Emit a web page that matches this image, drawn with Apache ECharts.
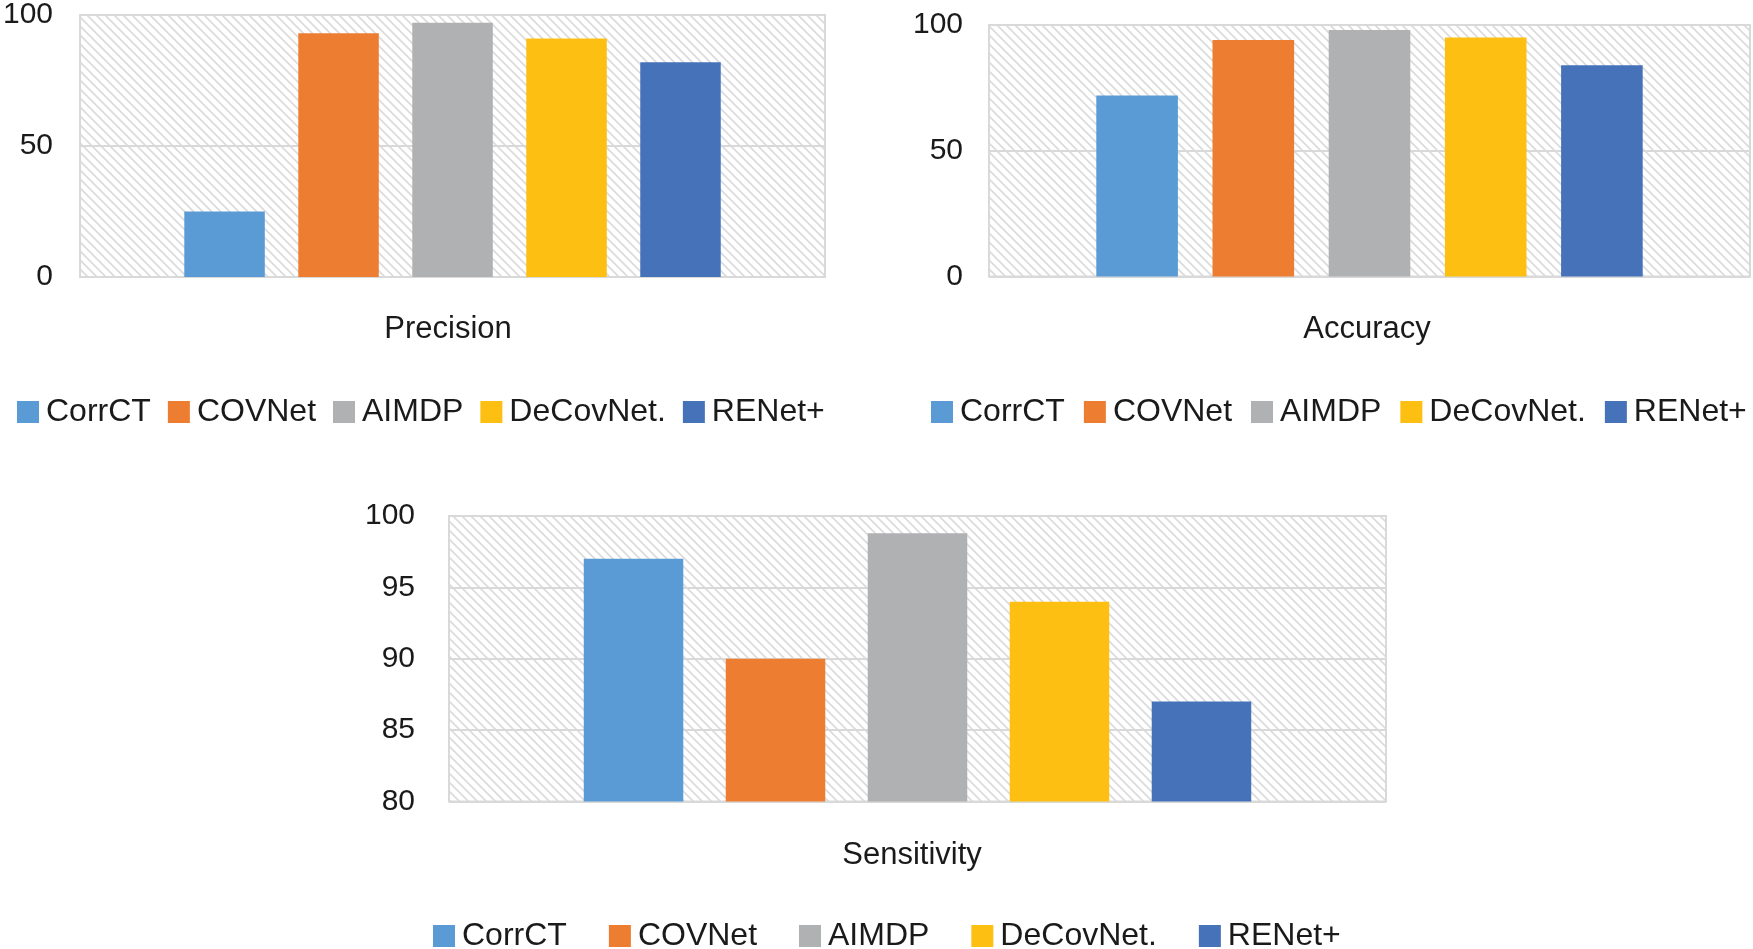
<!DOCTYPE html>
<html>
<head>
<meta charset="utf-8">
<script src="https://cdn.jsdelivr.net/npm/echarts@6/dist/echarts.min.js"></script>
<style>
html,body{margin:0;padding:0;background:#fff;}
#main{width:1753px;height:949px;}
</style>
</head>
<body>
<div id="main"></div>
<script>
// ---- data ----
var methods = ['CorrCT', 'COVNet', 'AIMDP', 'DeCovNet.', 'RENet+'];
var colors = ['#5B9BD5', '#ED7D31', '#B0B1B3', '#FCBF12', '#4672BA'];
var precisionValues = [25, 93, 97, 91, 82];
var accuracyValues = [72, 94, 98, 95, 84];
var sensitivityValues = [97, 90, 98.8, 94, 87];
var chartTitles = ['Precision', 'Accuracy', 'Sensitivity'];
var yTicksTop = [0, 50, 100];
var yTicksBottom = [80, 85, 90, 95, 100];

// hatch pattern
function makeHatch() {
  var s = 9;
  var c = document.createElement('canvas');
  c.width = s; c.height = s;
  var ctx = c.getContext('2d');
  ctx.fillStyle = '#ffffff';
  ctx.fillRect(0, 0, s, s);
  ctx.strokeStyle = '#dcdcdc';
  ctx.lineWidth = 1.8;
  ctx.beginPath();
  ctx.moveTo(-1, -1); ctx.lineTo(s + 1, s + 1);
  ctx.moveTo(-1, s - 1); ctx.lineTo(1, s + 1);
  ctx.moveTo(s - 1, -1); ctx.lineTo(s + 1, 1);
  ctx.stroke();
  return { image: c, repeat: 'repeat' };
}
var hatch = makeHatch();

var font = 'Liberation Sans, Arial, Helvetica, sans-serif';
var txtColor = '#1a1a1a';
var fs = 30;
var legendFs = 32;
var titleFs = 31;

var grids = [
  { left: 76, top: 14, width: 749, height: 263 },
  { left: 989, top: 25, width: 761, height: 251.5 },
  { left: 449, top: 516, width: 937, height: 285.5 }
];
var axisRanges = [
  { min: yTicksTop[0], max: yTicksTop[yTicksTop.length - 1], interval: 50, margin: 27 },
  { min: yTicksTop[0], max: yTicksTop[yTicksTop.length - 1], interval: 50, margin: 26 },
  { min: yTicksBottom[0], max: yTicksBottom[yTicksBottom.length - 1], interval: 5, margin: 34 }
];
var barWidths = [80.5, 81.6, 99.5];
var barGaps = ['41.6%', '42.4%', '42.7%'];
var dataSets = [precisionValues, accuracyValues, sensitivityValues];
var titlePos = [[443, 326], [1362, 326], [907, 852]];
var legendPos = [
  { left: 17, top: 396, gap: 17 },
  { left: 931, top: 396, gap: 19 },
  { left: 433, top: 920, gap: 42 }
];

var option = {
  backgroundColor: '#ffffff',
  animation: false,
  textStyle: { fontFamily: font },
  grid: grids.map(function (g) {
    return {
      left: g.left, top: g.top, width: g.width, height: g.height,
      show: true, backgroundColor: hatch, borderColor: '#d9d9d9', borderWidth: 2,
      containLabel: false
    };
  }),
  xAxis: grids.map(function (g, i) {
    return {
      type: 'category', gridIndex: i, data: [''],
      axisLine: { show: false }, axisTick: { show: false }, axisLabel: { show: false },
      splitLine: { show: false }
    };
  }),
  yAxis: axisRanges.map(function (r, i) {
    return {
      type: 'value', gridIndex: i, min: r.min, max: r.max, interval: r.interval,
      axisLine: { show: false }, axisTick: { show: false },
      axisLabel: { color: txtColor, fontSize: fs, fontFamily: font, margin: r.margin },
      splitLine: { show: true, lineStyle: { color: '#d9d9d9', width: 2 } }
    };
  }),
  title: chartTitles.map(function (t, i) {
    return {
      text: t, left: titlePos[i][0], top: titlePos[i][1] - 17, textAlign: 'center',
      textStyle: { color: txtColor, fontSize: titleFs, fontWeight: 'normal', fontFamily: font }
    };
  }),
  legend: legendPos.map(function (p) {
    return {
      data: methods, left: p.left, top: p.top, itemGap: p.gap, width: 1000, padding: 0,
      itemWidth: 22, itemHeight: 22, icon: 'rect', selectedMode: false,
      textStyle: { color: txtColor, fontSize: legendFs, fontFamily: font, padding: [0, 0, 0, 2] }
    };
  }),
  series: []
};

for (var g = 0; g < 3; g++) {
  for (var m = 0; m < methods.length; m++) {
    option.series.push({
      type: 'bar', name: methods[m], xAxisIndex: g, yAxisIndex: g,
      data: [dataSets[g][m]],
      barWidth: barWidths[g], barGap: barGaps[g],
      itemStyle: { color: colors[m] },
      emphasis: { disabled: true }
    });
  }
}

var chart = echarts.init(document.getElementById('main'));
chart.setOption(option);
</script>
</body>
</html>
